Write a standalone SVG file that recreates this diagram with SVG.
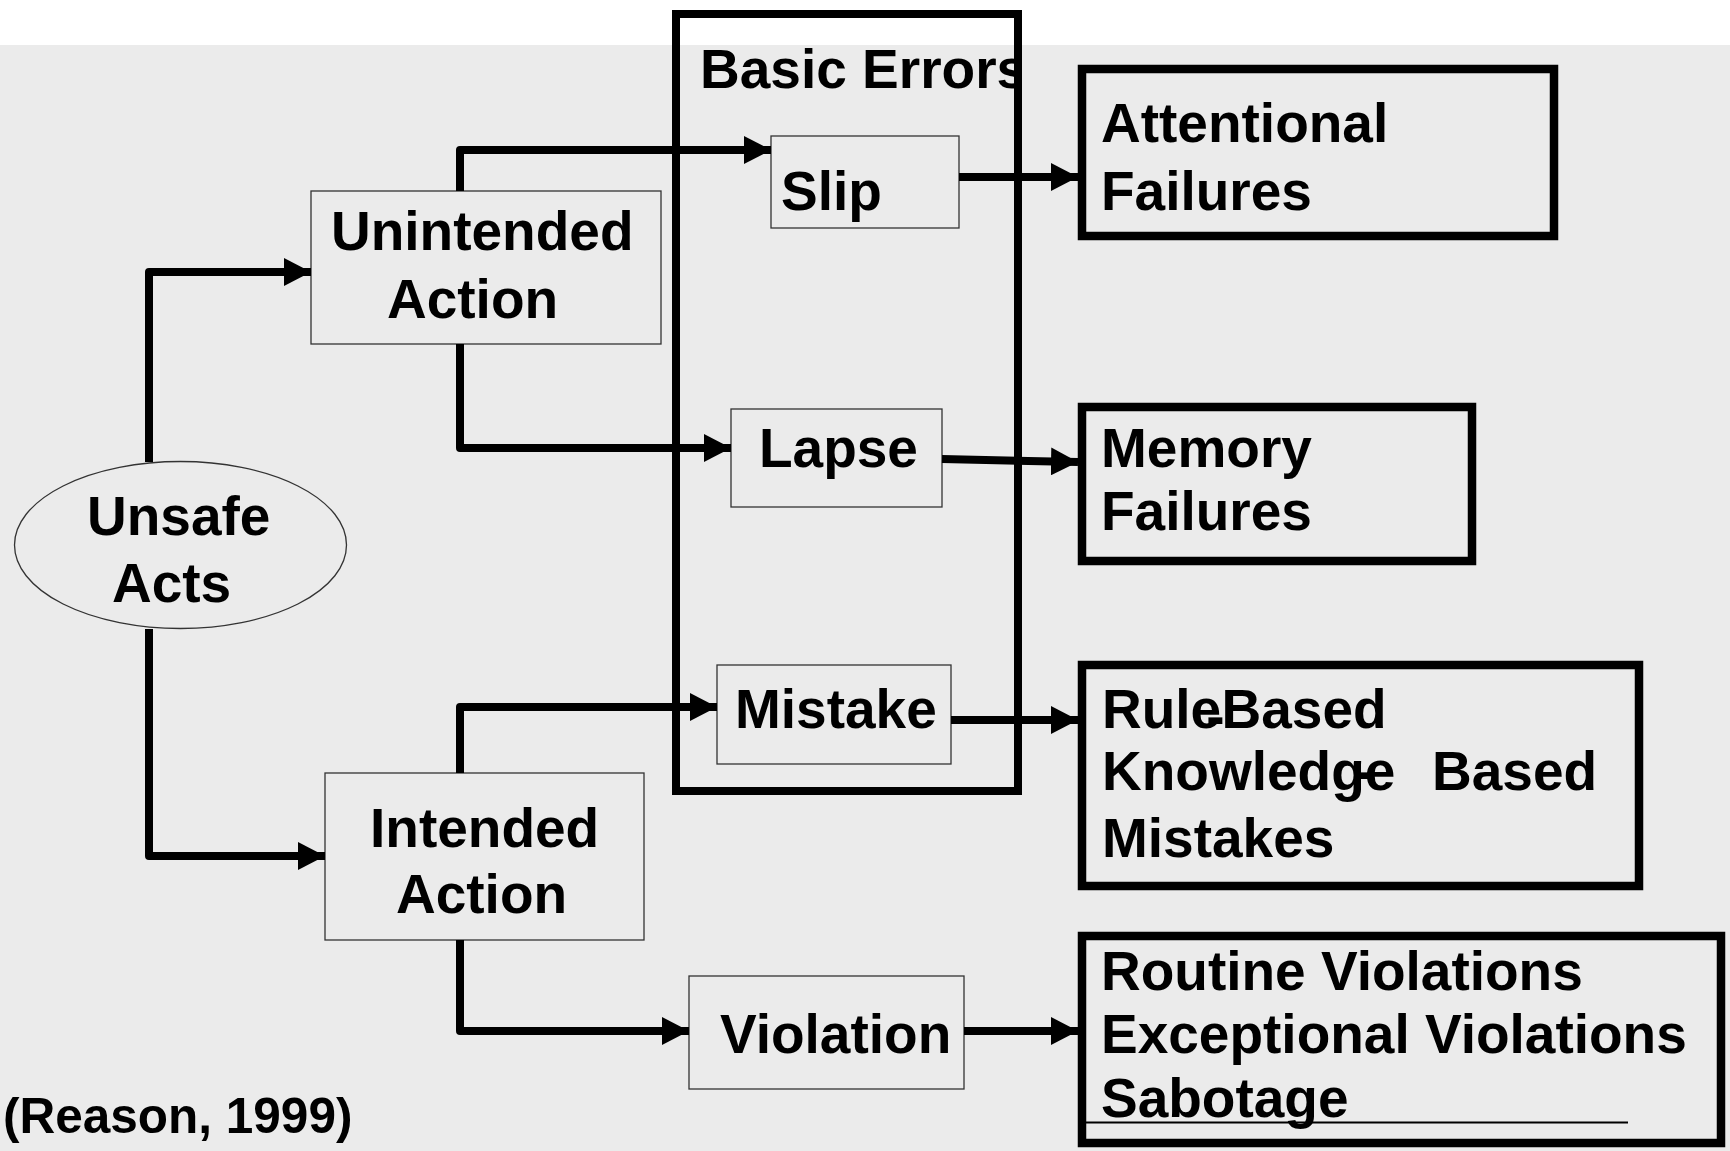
<svg xmlns="http://www.w3.org/2000/svg" width="1730" height="1151" viewBox="0 0 1730 1151">
<defs>
<marker id="arr" markerUnits="userSpaceOnUse" markerWidth="27" markerHeight="28" refX="27" refY="14" orient="auto">
<path d="M0,0 L27,14 L0,28 z" fill="#000"/>
</marker>
<clipPath id="beclip"><rect x="672" y="10" width="350" height="785"/></clipPath>
<style>
text{font-family:"Liberation Sans",Arial,sans-serif;font-weight:bold;font-size:55px;fill:#000}
.thin{fill:none;stroke:#333;stroke-width:1.3}
.thick{fill:none;stroke:#000;stroke-width:8.5}
.conn path{fill:none;stroke:#000;stroke-width:8;stroke-linejoin:round;marker-end:url(#arr)}
</style>
</defs>
<rect x="0" y="0" width="1730" height="1151" fill="#fff"/>
<rect x="0" y="45" width="1730" height="1106" fill="#ebebeb"/>

<g id="basic-errors">
<text x="700" y="88" clip-path="url(#beclip)">Basic Errors</text>
<rect class="thick" x="676" y="14" width="342" height="777" style="stroke-width:8"/>
</g>

<g id="unsafe-acts">
<ellipse cx="180.5" cy="545" rx="166" ry="83.5" class="thin"/>
<text x="87" y="535">Unsafe</text>
<text x="112" y="602">Acts</text>
</g>

<g id="unintended-action">
<rect class="thin" x="311" y="191" width="350" height="153"/>
<text x="331" y="250">Unintended</text>
<text x="387" y="318">Action</text>
</g>

<g id="intended-action">
<rect class="thin" x="325" y="773" width="319" height="167"/>
<text x="370" y="847">Intended</text>
<text x="396" y="913">Action</text>
</g>

<g id="slip">
<rect class="thin" x="771" y="136" width="188" height="92"/>
<text x="781" y="210">Slip</text>
</g>

<g id="lapse">
<rect class="thin" x="731" y="409" width="211" height="98"/>
<text x="759" y="467">Lapse</text>
</g>

<g id="mistake">
<rect class="thin" x="717" y="665" width="234" height="99"/>
<text x="735" y="728">Mistake</text>
</g>

<g id="violation">
<rect class="thin" x="689" y="976" width="275" height="113"/>
<text x="720" y="1053">Violation</text>
</g>

<g id="attentional-failures">
<rect class="thick" x="1082" y="69" width="472" height="167"/>
<text x="1101" y="142">Attentional</text>
<text x="1101" y="210">Failures</text>
</g>

<g id="memory-failures">
<rect class="thick" x="1082" y="407" width="390" height="154"/>
<text x="1101" y="467">Memory</text>
<text x="1101" y="530">Failures</text>
</g>

<g id="mistakes-types">
<rect class="thick" x="1082" y="665" width="557" height="221"/>
<text x="1102" y="728">Rule<tspan dx="-15" dy="7">-</tspan><tspan dx="-3" dy="-7">Based</tspan></text>
<text x="1102" y="790">Knowledge<tspan x="1352">-</tspan><tspan x="1432">Based</tspan></text>
<text x="1102" y="857">Mistakes</text>
</g>

<g id="violation-types">
<rect class="thick" x="1082" y="936" width="639" height="207"/>
<text x="1101" y="990">Routine Violations</text>
<text x="1101" y="1053">Exceptional Violations</text>
<text x="1101" y="1117">Sabotage</text>
<line x1="1086" y1="1122.5" x2="1628" y2="1122.5" stroke="#000" stroke-width="2"/>
</g>

<g id="connectors" class="conn">
<path d="M149,462 V272 H311"/>
<path d="M149,629 V856 H325"/>
<path d="M460,191 V150 H771"/>
<path d="M460,344 V448 H731"/>
<path d="M460,773 V707 H717"/>
<path d="M460,940 V1031 H689"/>
<path d="M959,177 H1078"/>
<path d="M942,459 L1078,462"/>
<path d="M951,720 H1078"/>
<path d="M964,1031 H1078"/>
</g>

<text x="3" y="1133" style="font-size:49.5px">(Reason, 1999)</text>
</svg>
